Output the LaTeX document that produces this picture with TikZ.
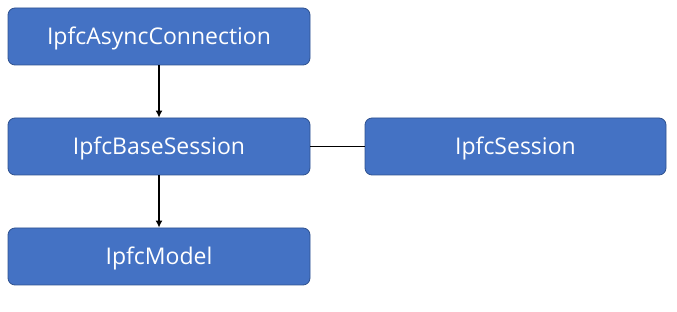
\documentclass[tikz,border=0pt]{standalone}
\usepackage{fontspec}
\setmainfont{Open Sans}
\usetikzlibrary{arrows.meta}
\definecolor{boxfill}{HTML}{4472C4}
\definecolor{boxline}{HTML}{2F528F}
\begin{document}
\begin{tikzpicture}[x=1pt,y=-1pt,
  box/.style={draw=boxline, line width=0.8pt, fill=boxfill, rounded corners=7pt,
    minimum width=302pt, minimum height=57pt, inner sep=0pt},
  lbl/.style={text=white, inner sep=0pt, font=\fontsize{23}{27}\selectfont},
  conn/.style={line width=1.6pt, black},
  arr/.style={conn, -{Latex[length=7pt,width=7pt]}}]
\useasboundingbox (0,0) rectangle (677,312);
\node[box] (ac) at (159,36.5) {};
\node[lbl] (acl) at (159,38.5) {IpfcAsyncConnection};
\node[box] (bs) at (159,146.5) {};
\node[lbl] (bsl) at (159,148.5) {IpfcBaseSession};
\node[box, minimum width=301pt] (s) at (515.5,146.5) {};
\node[lbl] (sl) at (515.5,148.5) {IpfcSession};
\node[box] (m) at (159,256.5) {};
\node[lbl] (ml) at (159,258.5) {IpfcModel};
\draw[arr] (ac) -- (bs);
\draw[arr] (bs) -- (m);
\draw[conn] (bs) -- (s);
\end{tikzpicture}
\end{document}
